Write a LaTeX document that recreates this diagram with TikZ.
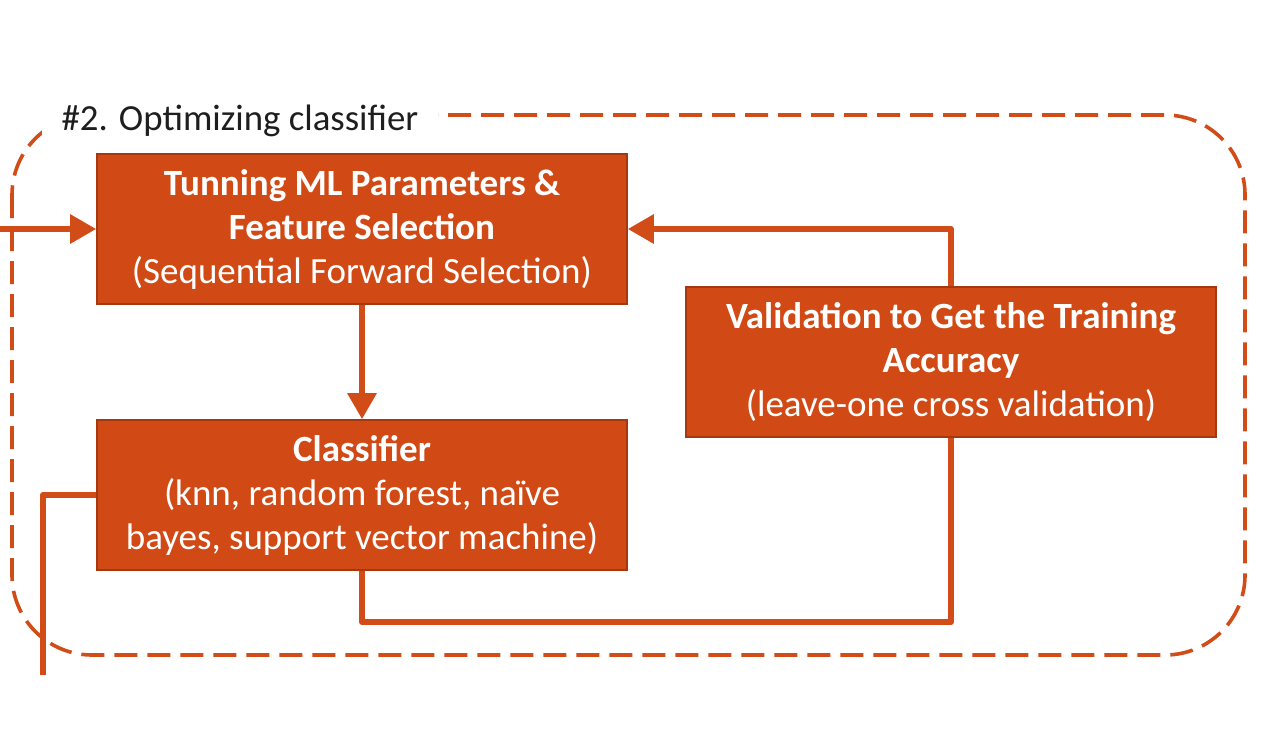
\documentclass[tikz,border=0pt]{standalone}
\usepackage{fontspec}
\setmainfont{Carlito}
\usetikzlibrary{arrows.meta}
\definecolor{boxfill}{RGB}{209,74,22}
\definecolor{boxedge}{RGB}{165,56,14}
\definecolor{linec}{RGB}{210,76,24}
\definecolor{titlec}{RGB}{30,30,30}
\begin{document}
\begin{tikzpicture}[x=0.5pt,y=-0.5pt,
  procbox/.style={draw=boxedge,line width=0.8pt,fill=boxfill,text=white,
    minimum width=265pt,minimum height=75pt,inner sep=0pt,align=center,
    font=\fontsize{18.5}{22}\selectfont},
  conn/.style={draw=linec,line width=3pt,line join=round},
  arr/.style={conn,-{Triangle[length=13pt,width=14pt]}},
  frame/.style={draw=linec,line width=1.8pt,dash pattern=on 11.5pt off 5pt,rounded corners=40pt}
]
\useasboundingbox (0,0) rectangle (1272,745);
\draw[frame] (12,115) rectangle (1245,655);
\node[fill=white,inner xsep=10pt,inner ysep=2pt,text=titlec,
  font=\fontsize{18.4}{20}\selectfont] (title) at (240,121) {\#2. Optimizing classifier};
\node[procbox] (tune) at (362,229) {\textbf{Tunning ML Parameters \&}\\ \textbf{Feature Selection}\\ (Sequential Forward Selection)};
\node[procbox] (clf) at (362,495) {\textbf{Classifier}\\ (knn, random forest, naïve\\ bayes, support vector machine)};
\node[procbox] (val) at (951,362) {\textbf{Validation to Get the Training}\\ \textbf{Accuracy}\\ (leave-one cross validation)};
\coordinate (in) at (0,229);
\coordinate (out) at (43,675);
\coordinate (bot) at (650,622);
\draw[arr] (in) -- (tune.west);
\draw[arr] (tune.south) -- (clf.north);
\draw[arr] (val.north) |- (tune.east);
\draw[conn] (clf.south) |- (bot) -| (val.south);
\draw[conn] (clf.west) -| (out);
\end{tikzpicture}
\end{document}
